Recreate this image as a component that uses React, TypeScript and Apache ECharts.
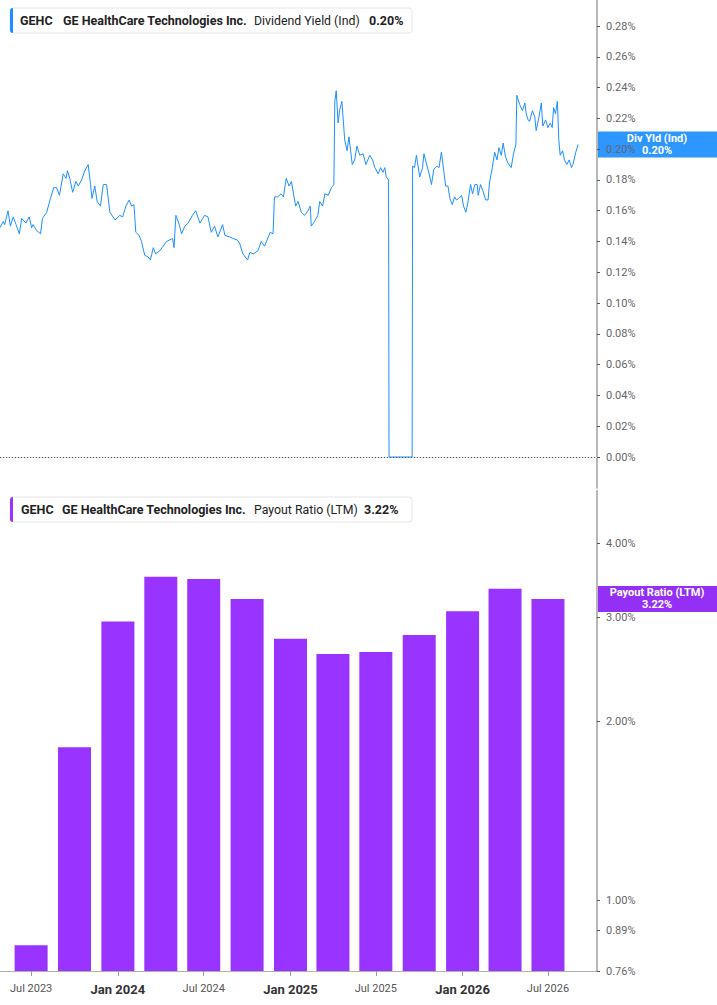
import { useEffect, useRef } from "react";
import * as echarts from "echarts";

type Pt = [string, number];

// Dividend yield (Ind), in percent
const yield2023: Pt[] = [
  ["2023-04-26", 0.149], ["2023-05-03", 0.153], ["2023-05-06", 0.151], ["2023-05-13", 0.16],
  ["2023-05-18", 0.15], ["2023-05-24", 0.156], ["2023-05-30", 0.151], ["2023-06-06", 0.145],
  ["2023-06-11", 0.155], ["2023-06-20", 0.152], ["2023-06-27", 0.156], ["2023-07-02", 0.149],
  ["2023-07-05", 0.151], ["2023-07-13", 0.147], ["2023-07-21", 0.145], ["2023-07-25", 0.155],
  ["2023-08-03", 0.159], ["2023-08-11", 0.168], ["2023-08-18", 0.175], ["2023-08-24", 0.175],
  ["2023-08-30", 0.17], ["2023-09-07", 0.184], ["2023-09-13", 0.181], ["2023-09-16", 0.186],
  ["2023-09-21", 0.181], ["2023-09-27", 0.172], ["2023-10-04", 0.179], ["2023-10-09", 0.176],
  ["2023-10-16", 0.18], ["2023-10-23", 0.186], ["2023-10-30", 0.19], ["2023-11-04", 0.177],
  ["2023-11-07", 0.168], ["2023-11-13", 0.176], ["2023-11-18", 0.166], ["2023-11-25", 0.163],
  ["2023-12-01", 0.177], ["2023-12-08", 0.177], ["2023-12-15", 0.159], ["2023-12-26", 0.154],
];

const yield2024: Pt[] = [
  ["2024-01-05", 0.157], ["2024-01-11", 0.156], ["2024-01-18", 0.163], ["2024-01-25", 0.167],
  ["2024-01-30", 0.163], ["2024-02-04", 0.164], ["2024-02-08", 0.146], ["2024-02-15", 0.144],
  ["2024-02-20", 0.14], ["2024-02-27", 0.131], ["2024-03-05", 0.13], ["2024-03-10", 0.128],
  ["2024-03-16", 0.136], ["2024-03-21", 0.132], ["2024-03-30", 0.134], ["2024-04-06", 0.137],
  ["2024-04-13", 0.14], ["2024-04-20", 0.141], ["2024-04-26", 0.142], ["2024-04-29", 0.136],
  ["2024-05-03", 0.157], ["2024-05-10", 0.151], ["2024-05-15", 0.145], ["2024-05-22", 0.15],
  ["2024-05-29", 0.152], ["2024-06-07", 0.157], ["2024-06-14", 0.16], ["2024-06-23", 0.152],
  ["2024-07-03", 0.157], ["2024-07-10", 0.156], ["2024-07-17", 0.146], ["2024-07-24", 0.15],
  ["2024-07-31", 0.143], ["2024-08-10", 0.151], ["2024-08-15", 0.144], ["2024-08-25", 0.143],
  ["2024-09-01", 0.142], ["2024-09-10", 0.141], ["2024-09-15", 0.139], ["2024-09-22", 0.132],
  ["2024-10-02", 0.128], ["2024-10-07", 0.133], ["2024-10-14", 0.132], ["2024-10-24", 0.134],
  ["2024-10-31", 0.14], ["2024-11-07", 0.137], ["2024-11-19", 0.146], ["2024-11-25", 0.145],
  ["2024-11-28", 0.169], ["2024-12-05", 0.169], ["2024-12-12", 0.171], ["2024-12-17", 0.169],
  ["2024-12-23", 0.181], ["2024-12-29", 0.176],
];

const yield2025: Pt[] = [
  ["2025-01-03", 0.179], ["2025-01-12", 0.163], ["2025-01-17", 0.166], ["2025-01-24", 0.159],
  ["2025-01-31", 0.157], ["2025-02-07", 0.16], ["2025-02-12", 0.163], ["2025-02-14", 0.15],
  ["2025-02-21", 0.153], ["2025-02-28", 0.157], ["2025-03-04", 0.166], ["2025-03-10", 0.163],
  ["2025-03-15", 0.171], ["2025-03-22", 0.17], ["2025-03-29", 0.175], ["2025-04-03", 0.177],
  ["2025-04-05", 0.231], ["2025-04-08", 0.238], ["2025-04-12", 0.217], ["2025-04-15", 0.225],
  ["2025-04-20", 0.231], ["2025-04-26", 0.206], ["2025-05-01", 0.199], ["2025-05-05", 0.208],
  ["2025-05-12", 0.19], ["2025-05-17", 0.193], ["2025-05-22", 0.202], ["2025-05-28", 0.196],
  ["2025-06-04", 0.197], ["2025-06-10", 0.19], ["2025-06-18", 0.196], ["2025-06-24", 0.193],
  ["2025-06-29", 0.188], ["2025-07-06", 0.184], ["2025-07-11", 0.188], ["2025-07-16", 0.185],
  ["2025-07-20", 0.188], ["2025-07-23", 0.182], ["2025-07-28", 0.18], ["2025-07-29", 0],
  ["2025-09-16", 0], ["2025-09-17", 0.189], ["2025-09-21", 0.188], ["2025-09-25", 0.196],
  ["2025-10-02", 0.182], ["2025-10-08", 0.188], ["2025-10-11", 0.197], ["2025-10-16", 0.191],
  ["2025-10-22", 0.184], ["2025-10-27", 0.177], ["2025-11-01", 0.187], ["2025-11-08", 0.189],
  ["2025-11-12", 0.188], ["2025-11-17", 0.198], ["2025-11-20", 0.191], ["2025-11-26", 0.176],
  ["2025-12-01", 0.176], ["2025-12-05", 0.168], ["2025-12-10", 0.164], ["2025-12-15", 0.169],
  ["2025-12-19", 0.167], ["2025-12-24", 0.168], ["2025-12-30", 0.17],
];

const yield2026: Pt[] = [
  ["2026-01-03", 0.163], ["2026-01-08", 0.159], ["2026-01-12", 0.165], ["2026-01-18", 0.177],
  ["2026-01-22", 0.171], ["2026-01-27", 0.177], ["2026-02-01", 0.177], ["2026-02-03", 0.17],
  ["2026-02-08", 0.177], ["2026-02-13", 0.173], ["2026-02-19", 0.167], ["2026-02-24", 0.167],
  ["2026-02-27", 0.178], ["2026-03-05", 0.188], ["2026-03-10", 0.198], ["2026-03-15", 0.193],
  ["2026-03-19", 0.201], ["2026-03-24", 0.196], ["2026-03-28", 0.204], ["2026-04-02", 0.195],
  ["2026-04-07", 0.191], ["2026-04-14", 0.188], ["2026-04-19", 0.197], ["2026-04-24", 0.203],
  ["2026-04-26", 0.235], ["2026-05-02", 0.229], ["2026-05-08", 0.225], ["2026-05-13", 0.23],
  ["2026-05-16", 0.223], ["2026-05-20", 0.219], ["2026-05-23", 0.218], ["2026-05-29", 0.225],
  ["2026-06-03", 0.221], ["2026-06-06", 0.212], ["2026-06-12", 0.221], ["2026-06-17", 0.23],
  ["2026-06-20", 0.215], ["2026-06-26", 0.219], ["2026-07-01", 0.214], ["2026-07-06", 0.217],
  ["2026-07-10", 0.214], ["2026-07-13", 0.227], ["2026-07-17", 0.223], ["2026-07-21", 0.231],
  ["2026-07-24", 0.206], ["2026-07-27", 0.196], ["2026-08-01", 0.199], ["2026-08-05", 0.193],
  ["2026-08-10", 0.19], ["2026-08-15", 0.193], ["2026-08-20", 0.188], ["2026-08-23", 0.19],
  ["2026-08-29", 0.198], ["2026-09-03", 0.203],
];

// Payout ratio (LTM), quarterly, in percent
const payoutDates = [
  "2023-07-01", "2023-10-01", "2024-01-01", "2024-04-01", "2024-07-01", "2024-10-01", "2025-01-01",
  "2025-04-01", "2025-07-01", "2025-10-01", "2026-01-01", "2026-04-01", "2026-07-01",
];
const payoutValues = [0.84, 1.81, 2.95, 3.51, 3.48, 3.22, 2.76, 2.6, 2.62, 2.8, 3.07, 3.35, 3.22];

const payoutTicks = [0.76, 0.89, 1, 2, 3, 4];
const dateTicks = ["2023-07-01", "2024-01-01", "2024-07-01", "2025-01-01", "2025-07-01", "2026-01-01", "2026-07-01"];

const X_MIN = "2023-04-26";
const X_MAX = "2026-10-13";

const FONT = "Roboto, 'Liberation Sans', Arial, sans-serif";
const BLUE = "#1e8fff";
const PURPLE = "#9933ff";

const MONTHS = ["Jan", "Feb", "Mar", "Apr", "May", "Jun", "Jul", "Aug", "Sep", "Oct", "Nov", "Dec"];

// local-time timestamp of a YYYY-MM-DD string
function ts(s: string): number {
  const [y, m, d] = s.split("-").map(Number);
  return new Date(y, m - 1, d).getTime();
}

function pct(v: number): string {
  return `${v.toFixed(2)}%`;
}

function legendBox(y: number, color: string, metric: string, value: string, xs: number[]) {
  const text = (x: number, s: string, weight: string | number, size: number) => ({
    type: "text",
    x,
    y: y + 12.5,
    style: { text: s, fill: "#222", font: `${weight} ${size}px ${FONT}`, verticalAlign: "middle" },
  });
  return {
    type: "group",
    z: 100,
    children: [
      { type: "rect", shape: { x: 10, y, width: 402, height: 25, r: 3 }, style: { fill: "#fff", stroke: "#e6e6e6", lineWidth: 1 } },
      { type: "rect", shape: { x: 10, y, width: 3, height: 25, r: [3, 0, 0, 3] }, style: { fill: color } },
      text(xs[0], "GEHC", "bold", 12.5),
      text(xs[1], "GE HealthCare Technologies Inc.", "bold", 12.5),
      text(xs[2], metric, "normal", 12.3),
      text(xs[3], value, "bold", 12.5),
    ],
  };
}

function tagBox(cy: number, color: string, title: string, value: string) {
  return {
    type: "group",
    z: 100,
    children: [
      { type: "rect", shape: { x: 597, y: cy - 13, width: 120, height: 26 }, style: { fill: color, opacity: 0.93 } },
      {
        type: "text", x: 657, y: cy - 6,
        style: { text: title, fill: "#fff", font: `bold 11px ${FONT}`, align: "center", verticalAlign: "middle" },
      },
      {
        type: "text", x: 657, y: cy + 6,
        style: { text: value, fill: "#fff", font: `bold 11px ${FONT}`, align: "center", verticalAlign: "middle" },
      },
    ],
  };
}

export default function App() {
  const ref = useRef<HTMLDivElement>(null);

  useEffect(() => {
    if (!ref.current) return;
    const chart = echarts.init(ref.current, undefined, { renderer: "svg" });
    const yieldData = [...yield2023, ...yield2024, ...yield2025, ...yield2026].map(([d, v]) => [ts(d), v]);
    const tickTs = dateTicks.map(ts);

    chart.setOption({
      animation: false,
      textStyle: { fontFamily: FONT },
      grid: [
        { left: 0, right: 120, top: 0, height: 487.8 },
        { left: 0, right: 120, top: 490.7, bottom: 34 },
      ],
      xAxis: [
        {
          type: "value",
          gridIndex: 0,
          min: ts(X_MIN),
          max: ts(X_MAX),
          axisLabel: { show: false },
          axisTick: { show: false },
          splitLine: { show: false },
          axisLine: { show: true, lineStyle: { color: "#dddddd", width: 1 } },
        },
        {
          type: "value",
          gridIndex: 1,
          min: ts(X_MIN),
          max: ts(X_MAX),
          splitLine: { show: false },
          axisLine: { show: true, lineStyle: { color: "#b0b0b0", width: 1 } },
          axisTick: { show: true, customValues: tickTs, length: 5, lineStyle: { color: "#999" } },
          axisLabel: {
            customValues: tickTs,
            margin: 12,
            formatter: (val: number) => {
              const d = new Date(val);
              const s = `${MONTHS[d.getMonth()]} ${d.getFullYear()}`;
              return d.getMonth() === 0 ? `{b|${s}}` : `{a|${s}}`;
            },
            rich: {
              a: { color: "#555", fontSize: 11, fontFamily: FONT },
              b: { color: "#333", fontSize: 13, fontWeight: "bold", fontFamily: FONT },
            },
          },
        },
      ],
      yAxis: [
        {
          type: "value",
          gridIndex: 0,
          position: "right",
          min: -0.02,
          max: 0.2969,
          interval: 0.02,
          splitLine: { show: false },
          axisLine: { show: true, lineStyle: { color: "#b8b8b8", width: 2 } },
          axisTick: { show: true, length: 3, lineStyle: { color: "#555" } },
          axisLabel: {
            showMinLabel: false,
            showMaxLabel: false,
            color: "#666",
            fontSize: 11,
            margin: 9,
            formatter: (v: number) => pct(v),
          },
        },
        {
          type: "log",
          gridIndex: 1,
          position: "right",
          min: 0.76,
          max: 4.9,
          startValue: 0.76,
          splitLine: { show: false },
          minorTick: { show: false },
          axisLine: { show: true, lineStyle: { color: "#b8b8b8", width: 2 } },
          axisTick: { show: true, customValues: payoutTicks, length: 3, lineStyle: { color: "#555" } },
          axisLabel: {
            customValues: payoutTicks,
            color: "#666",
            fontSize: 11,
            margin: 9,
            formatter: (v: number) => pct(v),
          },
        },
      ],
      series: [
        {
          name: "Dividend Yield (Ind)",
          type: "line",
          xAxisIndex: 0,
          yAxisIndex: 0,
          data: yieldData,
          showSymbol: false,
          symbol: "none",
          lineStyle: { color: BLUE, width: 1 },
          markLine: {
            silent: true,
            symbol: "none",
            label: { show: false },
            lineStyle: { color: "#555", type: [1, 2], width: 1 },
            data: [{ yAxis: 0 }],
          },
        },
        {
          name: "Payout Ratio (LTM)",
          type: "bar",
          xAxisIndex: 1,
          yAxisIndex: 1,
          data: payoutDates.map((d, i) => [ts(d), payoutValues[i]]),
          barWidth: 33,
          itemStyle: { color: PURPLE },
        },
      ],
    });

    const lastYield = yield2026[yield2026.length - 1][1];
    const lastPayout = payoutValues[payoutValues.length - 1];
    const yTag = chart.convertToPixel({ yAxisIndex: 0 }, lastYield) as number;
    const pTag = chart.convertToPixel({ yAxisIndex: 1 }, lastPayout) as number;

    chart.setOption({
      graphic: [
        legendBox(8, BLUE, "Dividend Yield (Ind)", pct(lastYield), [20, 63, 254, 369]),
        legendBox(497, PURPLE, "Payout Ratio (LTM)", pct(lastPayout), [21, 62, 254, 364]),
        tagBox(yTag, BLUE, "Div Yld (Ind)", pct(lastYield)),
        tagBox(pTag, "#8c1ff5", "Payout Ratio (LTM)", pct(lastPayout)),
      ],
    });

    return () => chart.dispose();
  }, []);

  return <div ref={ref} style={{ position: "absolute", left: 0, top: 0, width: 717, height: 1005 }} />;
}
